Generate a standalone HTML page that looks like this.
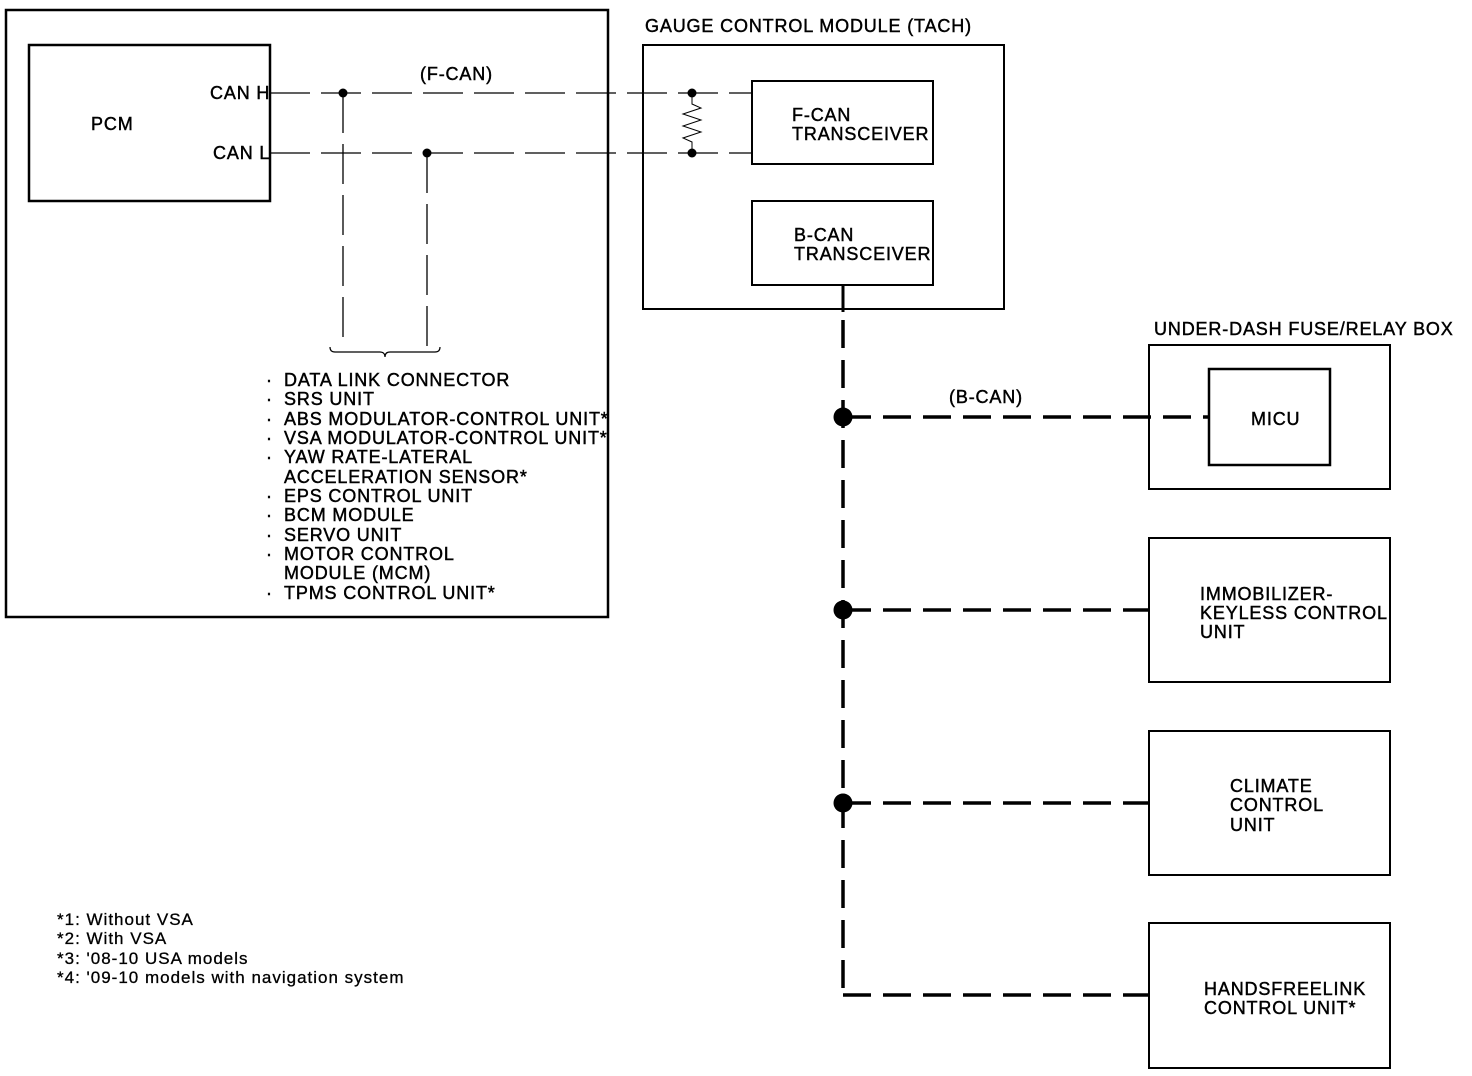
<!DOCTYPE html>
<html><head><meta charset="utf-8"><style>
html,body{margin:0;padding:0;background:#fff;}
svg{display:block;}
text{font-family:"Liberation Sans",Arial,sans-serif;font-size:18px;fill:#000;stroke:#000;stroke-width:0.45px;letter-spacing:0.85px;}
text.fn{font-size:17px;letter-spacing:1px;stroke-width:0.3px;}
</style></head><body>
<svg width="1472" height="1076" viewBox="0 0 1472 1076" xmlns="http://www.w3.org/2000/svg">
<g fill="none" stroke="#000">
<rect x="6" y="10" width="602" height="607" stroke-width="2.5"/>
<rect x="29" y="45" width="241" height="156" stroke-width="2.5"/>
<rect x="643" y="45" width="361" height="264" stroke-width="2"/>
<rect x="752" y="81" width="181" height="83" stroke-width="2"/>
<rect x="752" y="201" width="181" height="84" stroke-width="2"/>
<rect x="1149" y="345" width="241" height="144" stroke-width="2"/>
<rect x="1209" y="369" width="121" height="96" stroke-width="2.5"/>
<rect x="1149" y="538" width="241" height="144" stroke-width="2"/>
<rect x="1149" y="731" width="241" height="144" stroke-width="2"/>
<rect x="1149" y="923" width="241" height="145" stroke-width="2"/>
<g stroke-width="1.3" stroke-dasharray="40 11">
<line x1="270" y1="93" x2="752" y2="93"/>
<line x1="270" y1="153" x2="752" y2="153"/>
<line x1="343" y1="93" x2="343" y2="348"/>
<line x1="427" y1="153" x2="427" y2="348"/>
</g>
<polyline stroke-width="1" points="692,93 692,104 701,108 683,114 701,120 683,126 701,132 683,138 692,142 692,153"/>
<path stroke-width="1.2" d="M330,347 q0,5 5,5 h45 q5,0 5,5 q0,-5 5,-5 h45 q5,0 5,-5"/>
<line x1="843" y1="285" x2="843" y2="312" stroke-width="3"/>
<g stroke-width="3.5" stroke-dasharray="28 12">
<line x1="843" y1="320" x2="843" y2="995"/>
<line x1="843" y1="417" x2="1209" y2="417"/>
<line x1="843" y1="610" x2="1149" y2="610"/>
<line x1="843" y1="803" x2="1149" y2="803"/>
<line x1="843" y1="995" x2="1149" y2="995"/>
</g>
</g>
<g fill="#000">
<circle cx="343" cy="93" r="4.5"/><circle cx="427" cy="153" r="4.5"/>
<circle cx="692" cy="93" r="4.5"/><circle cx="692" cy="153" r="4.5"/>
<circle cx="843" cy="417" r="9.5"/><circle cx="843" cy="610" r="9.5"/><circle cx="843" cy="803" r="9.5"/>
</g>
<text x="91" y="130">PCM</text>
<text x="210" y="99">CAN H</text>
<text x="213" y="159">CAN L</text>
<text x="420" y="80">(F-CAN)</text>
<text x="645" y="32">GAUGE CONTROL MODULE (TACH)</text>
<text x="792" y="121">F-CAN</text>
<text x="792" y="140">TRANSCEIVER</text>
<text x="794" y="241">B-CAN</text>
<text x="794" y="260">TRANSCEIVER</text>
<text x="1154" y="335">UNDER-DASH FUSE/RELAY BOX</text>
<text x="949" y="403">(B-CAN)</text>
<text x="1251" y="425">MICU</text>
<text x="1200" y="600">IMMOBILIZER-</text>
<text x="1200" y="619">KEYLESS CONTROL</text>
<text x="1200" y="638">UNIT</text>
<text x="1230" y="792">CLIMATE</text>
<text x="1230" y="811">CONTROL</text>
<text x="1230" y="831">UNIT</text>
<text x="1204" y="995">HANDSFREELINK</text>
<text x="1204" y="1014">CONTROL UNIT*</text>
<g>
<text x="266" y="386">·</text><text x="284" y="386">DATA LINK CONNECTOR</text>
<text x="266" y="405">·</text><text x="284" y="405">SRS UNIT</text>
<text x="266" y="425">·</text><text x="284" y="425">ABS MODULATOR-CONTROL UNIT*</text>
<text x="266" y="444">·</text><text x="284" y="444">VSA MODULATOR-CONTROL UNIT*</text>
<text x="266" y="463">·</text><text x="284" y="463">YAW RATE-LATERAL</text>
<text x="284" y="483">ACCELERATION SENSOR*</text>
<text x="266" y="502">·</text><text x="284" y="502">EPS CONTROL UNIT</text>
<text x="266" y="521">·</text><text x="284" y="521">BCM MODULE</text>
<text x="266" y="541">·</text><text x="284" y="541">SERVO UNIT</text>
<text x="266" y="560">·</text><text x="284" y="560">MOTOR CONTROL</text>
<text x="284" y="579">MODULE (MCM)</text>
<text x="266" y="599">·</text><text x="284" y="599">TPMS CONTROL UNIT*</text>
</g>
<text class="fn" x="57" y="925">*1: Without VSA</text>
<text class="fn" x="57" y="944">*2: With VSA</text>
<text class="fn" x="57" y="964">*3: '08-10 USA models</text>
<text class="fn" x="57" y="983">*4: '09-10 models with navigation system</text>
</svg>
</body></html>
